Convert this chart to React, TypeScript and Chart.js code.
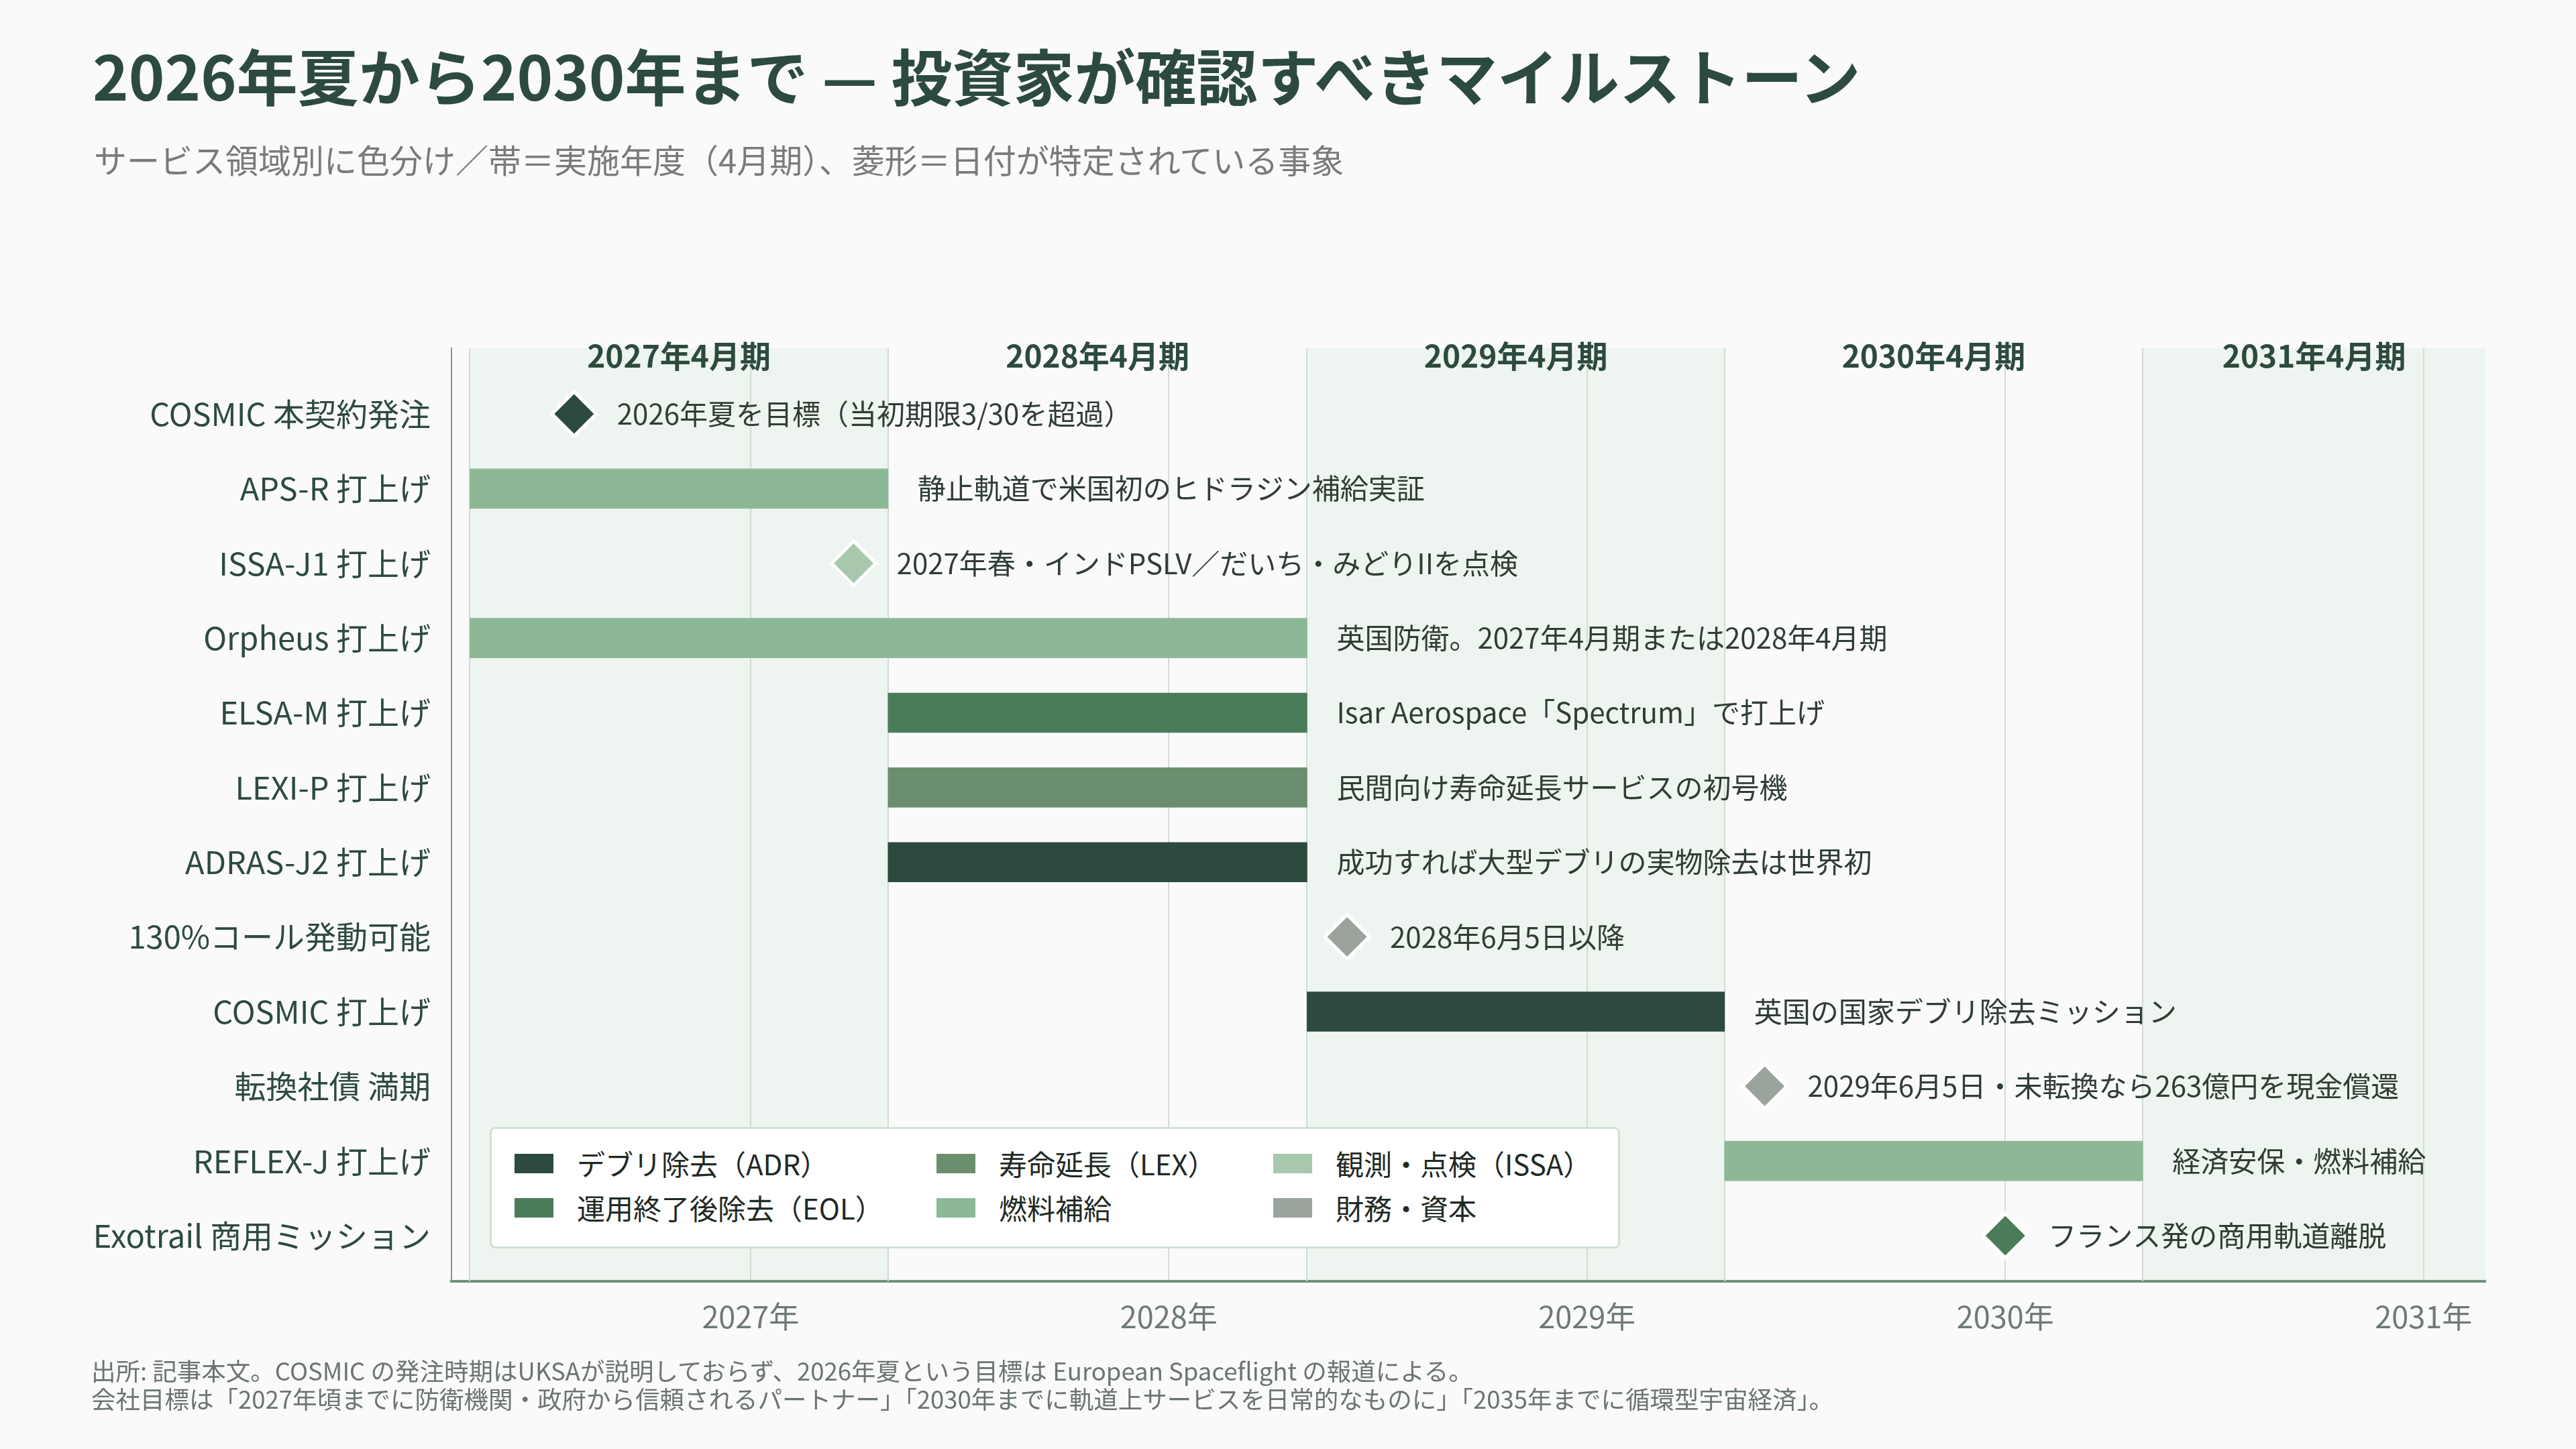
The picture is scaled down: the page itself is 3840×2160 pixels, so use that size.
import React, { useEffect, useRef } from 'react';
import { Chart, registerables } from 'chart.js';

Chart.register(...registerables);

const FONT = '"Noto Sans CJK JP", "Noto Sans", sans-serif';

const titleText = '2026年夏から2030年まで — 投資家が確認すべきマイルストーン';
const subtitleText = 'サービス領域別に色分け／帯＝実施年度（4月期）、菱形＝日付が特定されている事象';
const footerLines = [
  '出所: 記事本文。COSMIC の発注時期はUKSAが説明しておらず、2026年夏という目標は European Spaceflight の報道による。',
  '会社目標は「2027年頃までに防衛機関・政府から信頼されるパートナー」「2030年までに軌道上サービスを日常的なものに」「2035年までに循環型宇宙経済」。',
];

const categories = [
  'COSMIC 本契約発注',
  'APS-R 打上げ',
  'ISSA-J1 打上げ',
  'Orpheus 打上げ',
  'ELSA-M 打上げ',
  'LEXI-P 打上げ',
  'ADRAS-J2 打上げ',
  '130%コール発動可能',
  'COSMIC 打上げ',
  '転換社債 満期',
  'REFLEX-J 打上げ',
  'Exotrail 商用ミッション',
];
const startDates = [
  '2026-07-31', '2026-05-01', '2027-04-01', '2026-05-01', '2027-05-01', '2027-05-01',
  '2027-05-01', '2028-06-05', '2028-05-01', '2029-06-05', '2029-05-01', '2030-01-01',
];
const endDates: (string | null)[] = [
  null, '2027-04-30', null, '2028-04-30', '2028-04-30', '2028-04-30',
  '2028-04-30', null, '2029-04-30', null, '2030-04-30', null,
];
const domainOf = ['ADR', 'FUEL', 'ISSA', 'FUEL', 'EOL', 'LEX', 'ADR', 'FIN', 'ADR', 'FIN', 'FUEL', 'EOL'];
const notes = [
  '2026年夏を目標（当初期限3/30を超過）',
  '静止軌道で米国初のヒドラジン補給実証',
  '2027年春・インドPSLV／だいち・みどりIIを点検',
  '英国防衛。2027年4月期または2028年4月期',
  'Isar Aerospace「Spectrum」で打上げ',
  '民間向け寿命延長サービスの初号機',
  '成功すれば大型デブリの実物除去は世界初',
  '2028年6月5日以降',
  '英国の国家デブリ除去ミッション',
  '2029年6月5日・未転換なら263億円を現金償還',
  '経済安保・燃料補給',
  'フランス発の商用軌道離脱',
];

const domainKeys = ['ADR', 'EOL', 'LEX', 'FUEL', 'ISSA', 'FIN'];
const domainLabels = ['デブリ除去（ADR）', '運用終了後除去（EOL）', '寿命延長（LEX）', '燃料補給', '観測・点検（ISSA）', '財務・資本'];
const domainColors = ['#2d4a3e', '#4a7c5a', '#6b8f6e', '#8cb896', '#a8c8ae', '#9aa39c'];

const fyLabels = ['2027年4月期', '2028年4月期', '2029年4月期', '2030年4月期', '2031年4月期'];
const fyStarts = ['2026-05-01', '2027-05-01', '2028-05-01', '2029-05-01', '2030-05-01'];
const fyEnds = ['2027-04-30', '2028-04-30', '2029-04-30', '2030-04-30', '2031-04-30'];
const yearTicks = [2027, 2028, 2029, 2030, 2031];
const axisMinDate = '2026-04-15';
const axisMaxDate = '2031-02-24';

function toYear(s: string): number {
  const d = new Date(s + 'T00:00:00Z');
  const y = d.getUTCFullYear();
  const a = Date.UTC(y, 0, 1);
  const b = Date.UTC(y + 1, 0, 1);
  return y + (d.getTime() - a) / (b - a);
}
function toYearEnd(s: string): number {
  return toYear(s) + 1 / 365;
}
function colorOf(key: string): string {
  return domainColors[domainKeys.indexOf(key)];
}

const bandPlugin = {
  id: 'fyBands',
  beforeDraw(chart: any) {
    const { ctx, chartArea } = chart;
    const xs = chart.scales.x;
    ctx.save();
    ctx.beginPath();
    ctx.rect(chartArea.left, chartArea.top, chartArea.right - chartArea.left, chartArea.bottom - chartArea.top);
    ctx.clip();
    fyStarts.forEach((s, i) => {
      if (i % 2 !== 0) return;
      const x0 = xs.getPixelForValue(toYear(s));
      const x1 = xs.getPixelForValue(toYearEnd(fyEnds[i]));
      ctx.fillStyle = '#eef4ef';
      ctx.fillRect(x0, chartArea.top, x1 - x0, chartArea.bottom - chartArea.top);
    });
    ctx.restore();
  },
  beforeDatasetsDraw(chart: any) {
    const { ctx, chartArea } = chart;
    const xs = chart.scales.x;
    ctx.save();
    ctx.strokeStyle = '#d0ddd3';
    ctx.lineWidth = 2;
    fyStarts.forEach((s) => {
      const x = Math.round(xs.getPixelForValue(toYear(s)));
      if (x < chartArea.left || x > chartArea.right) return;
      ctx.beginPath();
      ctx.moveTo(x, chartArea.top);
      ctx.lineTo(x, chartArea.bottom);
      ctx.stroke();
    });
    ctx.restore();
  },
  afterDraw(chart: any) {
    const { ctx, chartArea } = chart;
    const xs = chart.scales.x;
    ctx.save();
    ctx.font = `700 46px ${FONT}`;
    ctx.fillStyle = '#2d4a3e';
    ctx.textAlign = 'center';
    ctx.textBaseline = 'middle';
    fyStarts.forEach((s, i) => {
      const x0 = Math.max(chartArea.left, xs.getPixelForValue(toYear(s)));
      const x1 = Math.min(chartArea.right, xs.getPixelForValue(toYearEnd(fyEnds[i])));
      ctx.fillText(fyLabels[i], (x0 + x1) / 2, chartArea.top + 12);
    });
    ctx.restore();
  },
};

const notesPlugin = {
  id: 'notes',
  afterDatasetsDraw(chart: any) {
    const { ctx } = chart;
    const xs = chart.scales.x;
    const ys = chart.scales.y;
    ctx.save();
    ctx.font = `400 42px ${FONT}`;
    ctx.fillStyle = '#2f3d35';
    ctx.textAlign = 'left';
    ctx.textBaseline = 'middle';
    categories.forEach((_, i) => {
      const e = endDates[i];
      const x = e ? xs.getPixelForValue(toYearEnd(e)) + 44 : xs.getPixelForValue(toYear(startDates[i])) + 64;
      const y = ys.getPixelForValue(i);
      ctx.fillText(notes[i], x, y);
    });
    ctx.restore();
  },
};

function GanttChart() {
  const ref = useRef<HTMLCanvasElement | null>(null);
  useEffect(() => {
    if (!ref.current) return;
    Chart.defaults.font.family = FONT;
    const barRows = categories.map((_, i) => i).filter((i) => endDates[i] !== null);
    const pointRows = categories.map((_, i) => i).filter((i) => endDates[i] === null);
    const chart = new Chart(ref.current, {
      type: 'bar',
      data: {
        datasets: [
          {
            type: 'bar',
            indexAxis: 'y',
            label: 'bars',
            data: barRows.map((i) => ({ x: [toYear(startDates[i]), toYearEnd(endDates[i] as string)], y: i })),
            backgroundColor: barRows.map((i) => colorOf(domainOf[i])),
            borderWidth: 0,
            barThickness: 59,
            grouped: false,
          } as any,
          {
            type: 'scatter',
            label: 'points',
            data: pointRows.map((i) => ({ x: toYear(startDates[i]), y: i })),
            pointStyle: 'rectRot',
            pointRadius: 33,
            pointHoverRadius: 33,
            pointBackgroundColor: pointRows.map((i) => colorOf(domainOf[i])),
            pointBorderColor: '#ffffff',
            pointBorderWidth: 5,
            showLine: false,
          } as any,
        ],
      },
      options: {
        animation: false,
        responsive: false,
        indexAxis: 'y',
        events: [],
        layout: { padding: { left: 0, right: 135, top: 519, bottom: 140 } },
        plugins: {
          legend: { display: false },
          tooltip: { enabled: false },
          title: { display: false },
        },
        scales: {
          x: {
            type: 'linear',
            position: 'bottom',
            offset: false,
            beginAtZero: false,
            grace: 0,
            bounds: 'data',
            min: toYear(axisMinDate),
            max: toYear(axisMaxDate),
            afterBuildTicks: (scale: any) => {
              scale.ticks = yearTicks.map((v) => ({ value: v }));
            },
            afterFit: (scale: any) => {
              scale.height = 110;
            },
            grid: { color: '#d0ddd3', lineWidth: 2, drawTicks: false, offset: false },
            border: { display: true, color: '#6f9278', width: 4 },
            ticks: {
              padding: 26,
              color: '#6e7a72',
              font: { size: 45, family: FONT },
              maxRotation: 0,
              autoSkip: false,
              callback: (v: any) => `${v}年`,
            },
          },
          y: {
            type: 'linear',
            position: 'left',
            reverse: true,
            offset: false,
            beginAtZero: false,
            grace: 0,
            bounds: 'data',
            min: -0.88,
            max: 11.61,
            afterBuildTicks: (scale: any) => {
              scale.ticks = categories.map((_, i) => ({ value: i }));
            },
            afterFit: (scale: any) => {
              scale.width = 673;
            },
            grid: { display: false, drawTicks: false, offset: false },
            border: { display: true, color: '#7d9a84', width: 2 },
            ticks: {
              padding: 31,
              color: '#2d4a3e',
              font: { size: 47, family: FONT },
              autoSkip: false,
              callback: (v: any) => categories[v] ?? '',
            },
          },
        },
      } as any,
      plugins: [bandPlugin, notesPlugin],
    });
    return () => chart.destroy();
  }, []);
  return <canvas ref={ref} width={3840} height={2160} style={{ position: 'absolute', left: 0, top: 0, width: 3840, height: 2160 }} />;
}

export default function App() {
  return (
    <div
      style={{
        position: 'fixed',
        left: 0,
        top: 0,
        width: 3840,
        height: 2160,
        background: '#fafafa',
        fontFamily: FONT,
        overflow: 'hidden',
      }}
    >
      <GanttChart />
      <div style={{ position: 'absolute', left: 138, top: 55, fontSize: 91, lineHeight: '110px', fontWeight: 700, color: '#2d4a3e', whiteSpace: 'nowrap' }}>
        {titleText}
      </div>
      <div style={{ position: 'absolute', left: 140, top: 208, fontSize: 49, lineHeight: '58px', color: '#7a7a7a', whiteSpace: 'nowrap' }}>
        {subtitleText}
      </div>
      <div
        style={{
          position: 'absolute',
          left: 730,
          top: 1680,
          width: 1685,
          height: 181,
          boxSizing: 'border-box',
          background: '#ffffff',
          border: '3px solid #cfe0d3',
          borderRadius: 8,
        }}
      >
        {domainKeys.map((k, i) => {
          const col = Math.floor(i / 2);
          const row = i % 2;
          const colX = [37, 666, 1168][col];
          const rowY = [54, 120][row];
          return (
            <div key={k} style={{ position: 'absolute', left: colX - 3, top: rowY - 3 - 28, height: 56, display: 'flex', alignItems: 'center', whiteSpace: 'nowrap' }}>
              <span style={{ display: 'inline-block', width: 58, height: 29, background: domainColors[i], marginRight: 35 }} />
              <span style={{ fontSize: 42, color: '#1f2a24', lineHeight: '56px' }}>{domainLabels[i]}</span>
            </div>
          );
        })}
      </div>
      <div style={{ position: 'absolute', left: 136, top: 2022, fontSize: 36.5, lineHeight: '42px', color: '#6b756f', whiteSpace: 'nowrap' }}>
        {footerLines.map((l, i) => (
          <div key={i}>{l}</div>
        ))}
      </div>
    </div>
  );
}
